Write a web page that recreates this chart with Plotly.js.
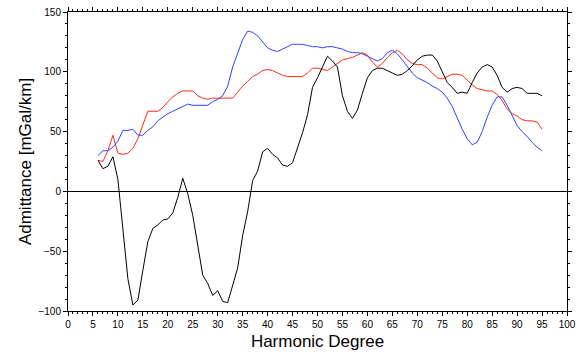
<!DOCTYPE html>
<html>
<head>
<meta charset="utf-8">
<script src="https://cdn.plot.ly/plotly-3.0.1.min.js"></script>
<style>html,body{margin:0;padding:0;background:#fff;}#chart{width:581px;height:354px;}</style>
</head>
<body>
<div id="chart"></div>
<script>
const degreeStart = 6;
const degreeEnd = 95;

const blackSeries = [26,19,21,29,10,-30,-73,-95,-91,-66,-42,-31,-28,-24,-23,-18,-5,11,-2,-20,-46,-70,-77,-87,-83,-92,-93,-78,-64,-37,-17,9,17,33,36,31,28,22,21,24,36,49,64,87,95,104,113,109,104,80,67,61,68,82,95,101,103,103,101,99,97,98,101,105,110,113,114,114,109,100,91,87,82,83,82,91,99,104,106,104,97,87,83,86,87,86,82,82,82,80];

const blueSeries = [30,34,34,37,42,51,51,52,47,47,51,54,59,62,65,67,69,71,73,72,72,72,72,75,77,80,88,104,115,127,134,133,130,125,120,118,117,119,121,123,123,123,122,121,121,120,121,121,120,119,117,116,116,115,113,111,109,111,116,118,115,110,104,99,95,93,91,88,86,83,78,71,61,52,44,39,41,50,62,72,79,79,72,64,55,50,46,41,37,34];

const redSeries = [26,25,34,47,32,31,32,36,44,55,67,67,67,70,75,79,82,84,84,84,80,78,77,78,78,78,78,78,83,88,92,96,98,101,102,101,99,97,96,96,96,96,99,103,103,102,101,104,107,110,111,112,114,116,114,108,104,107,112,116,118,115,110,107,106,106,103,99,95,94,96,98,98,97,93,89,86,85,84,84,81,76,69,65,63,60,59,59,58,52];

const degrees = [];
for (let d = degreeStart; d <= degreeEnd; d++) degrees.push(d);

const xTickVals = [0,5,10,15,20,25,30,35,40,45,50,55,60,65,70,75,80,85,90,95,100];
const yTickVals = [-100,-50,0,50,100,150];

const traces = [
  {x: degrees, y: redSeries, mode: 'lines', line: {color: '#ff2a14', width: 1}, hoverinfo: 'skip'},
  {x: degrees, y: blueSeries, mode: 'lines', line: {color: '#3040ff', width: 1}, hoverinfo: 'skip'},
  {x: degrees, y: blackSeries, mode: 'lines', line: {color: '#000000', width: 1}, hoverinfo: 'skip'}
];

const fontFam = 'Liberation Sans, Arial, Helvetica, sans-serif';

const layout = {
  width: 581, height: 354,
  margin: {l: 68, r: 14, t: 12, b: 43, pad: 0},
  paper_bgcolor: '#ffffff', plot_bgcolor: '#ffffff',
  showlegend: false,
  font: {family: fontFam, color: '#000000', size: 10},
  xaxis: {
    range: [0, 100], tickvals: xTickVals, ticktext: xTickVals.map(String),
    ticks: 'outside', ticklen: 4, tickwidth: 1, tickcolor: '#000',
    minor: {dtick: 1, ticks: 'outside', ticklen: 2, tickwidth: 1, tickcolor: '#000'},
    showline: true, linecolor: '#000', linewidth: 1, mirror: 'ticks',
    showgrid: false, zeroline: false,
    tickfont: {size: 10, family: fontFam},
    title: {text: 'Harmonic Degree', font: {size: 17, family: fontFam}, standoff: 6}
  },
  yaxis: {
    range: [-100, 150], tickvals: yTickVals, ticktext: ['\u2212100','\u221250','0','50','100','150'],
    ticks: 'outside', ticklen: 4, tickwidth: 1, tickcolor: '#000',
    minor: {dtick: 10, ticks: 'outside', ticklen: 2, tickwidth: 1, tickcolor: '#000'},
    showline: true, linecolor: '#000', linewidth: 1, mirror: 'ticks',
    showgrid: false, zeroline: true, zerolinecolor: '#000', zerolinewidth: 1,
    tickfont: {size: 10, family: fontFam},
    title: {text: 'Admittance [mGal/km]', font: {size: 17, family: fontFam}, standoff: 2}
  }
};

Plotly.newPlot('chart', traces, layout, {staticPlot: true, displayModeBar: false});
</script>
</body>
</html>
